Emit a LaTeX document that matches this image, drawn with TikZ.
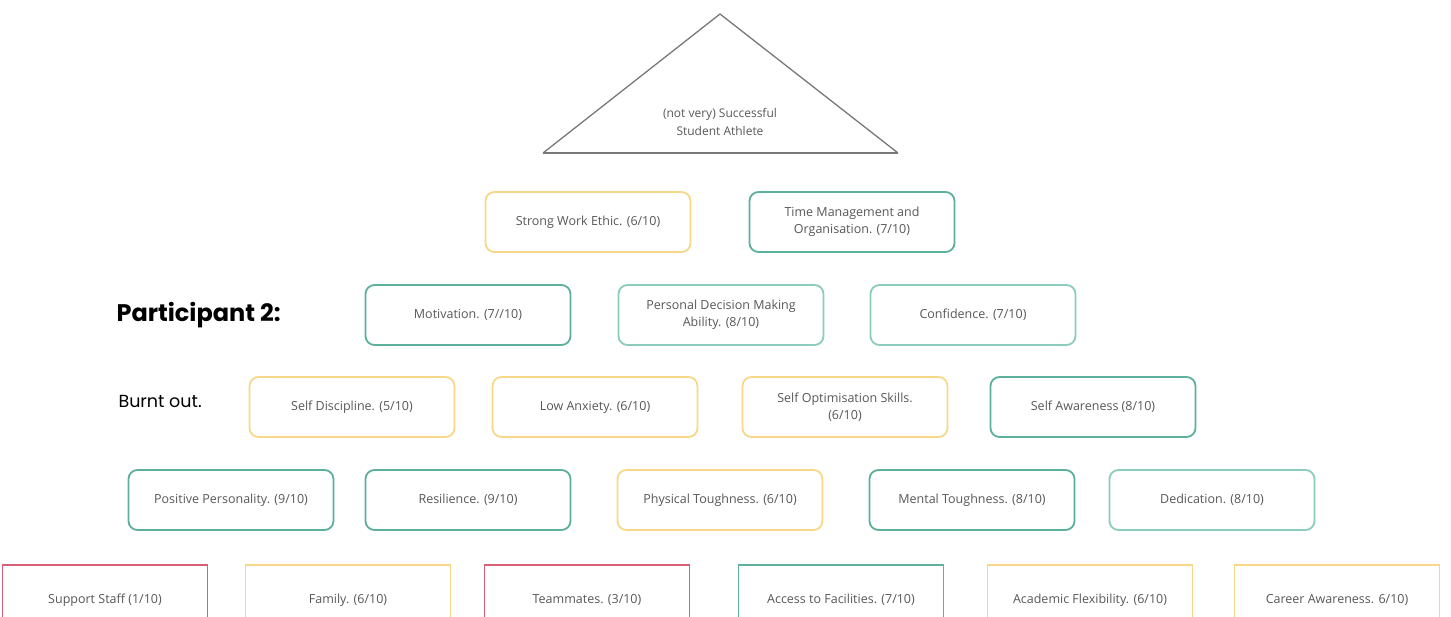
\documentclass[tikz,border=0pt]{standalone}
\usepackage{fontspec}
\setmainfont{Open Sans}
\newfontfamily\poppinsfont{Poppins}
\usepackage{xcolor}
\definecolor{traitteal}{RGB}{92, 176, 156}
\definecolor{traittealpale}{RGB}{140, 204, 188}
\definecolor{traitgold}{RGB}{246, 216, 136}
\definecolor{traitred}{RGB}{214, 96, 118}
\definecolor{traitgrey}{RGB}{88, 88, 88}
\definecolor{peakgrey}{RGB}{120, 120, 120}

\tikzset{
  trait/.style={rectangle, rounded corners=9pt, line width=1.8pt, fill=white,
    minimum width=205pt, minimum height=60pt, align=center, text=traitgrey,
    font=\fontsize{12.5}{17}\selectfont},
  support/.style={trait, rounded corners=0pt, minimum height=70pt}
}

\begin{document}
\begin{tikzpicture}[x=1pt, y=-1pt]
  \useasboundingbox (0,0) rectangle (1451,616);
  \clip (0,0) rectangle (1451,616);

  % Peak of the pyramid
  \coordinate (apex) at (720,14);
  \coordinate (baseL) at (543,153);
  \coordinate (baseR) at (898,153);
  \draw[peakgrey, line width=1.3pt] (baseL) -- (apex) -- (baseR);
  \draw[peakgrey, line width=2.4pt] (baseL) -- (baseR);
  \node[align=center, text=traitgrey, font=\fontsize{12}{18}\selectfont] (goal) at (720,122) {(not very) Successful\\Student Athlete};

  % Participant label
  \node[anchor=west, font=\poppinsfont\bfseries\fontsize{24}{28}\selectfont] (who) at (113,315) {Participant 2:};
  \node[anchor=west, font=\poppinsfont\fontsize{17.5}{21}\selectfont] (mood) at (115,401) {Burnt out.};

  % Row 1
  \node[trait, draw=traitgold] (work) at (588,222) {Strong Work Ethic. (6/10)};
  \node[trait, draw=traitteal] (time) at (852,222) {Time Management and\\Organisation. (7/10)};

  % Row 2
  \node[trait, draw=traitteal] (motiv) at (468,315) {Motivation. (7//10)};
  \node[trait, draw=traittealpale] (decide) at (721,315) {Personal Decision Making\\Ability. (8/10)};
  \node[trait, draw=traittealpale] (conf) at (973,315) {Confidence. (7/10)};

  % Row 3
  \node[trait, draw=traitgold] (discip) at (352,407) {Self Discipline. (5/10)};
  \node[trait, draw=traitgold] (anxiety) at (595,407) {Low Anxiety. (6/10)};
  \node[trait, draw=traitgold] (optim) at (845,407) {Self Optimisation Skills.\\(6/10)};
  \node[trait, draw=traitteal] (aware) at (1093,407) {Self Awareness (8/10)};

  % Row 4
  \node[trait, draw=traitteal] (posit) at (231,500) {Positive Personality. (9/10)};
  \node[trait, draw=traitteal] (resil) at (468,500) {Resilience. (9/10)};
  \node[trait, draw=traitgold] (phys) at (720,500) {Physical Toughness. (6/10)};
  \node[trait, draw=traitteal] (mental) at (972,500) {Mental Toughness. (8/10)};
  \node[trait, draw=traittealpale] (dedic) at (1212,500) {Dedication. (8/10)};

  % Base row, cut off by the page edge
  \node[support, draw=traitred] (staff) at (105,600) {Support Staff (1/10)};
  \node[support, draw=traitgold] (family) at (348,600) {Family. (6/10)};
  \node[support, draw=traitred] (mates) at (587,600) {Teammates. (3/10)};
  \node[support, draw=traitteal] (access) at (841,600) {Access to Facilities. (7/10)};
  \node[support, draw=traitgold] (acad) at (1090,600) {Academic Flexibility. (6/10)};
  \node[support, draw=traitgold] (career) at (1337,600) {Career Awareness. 6/10)};
\end{tikzpicture}
\end{document}
